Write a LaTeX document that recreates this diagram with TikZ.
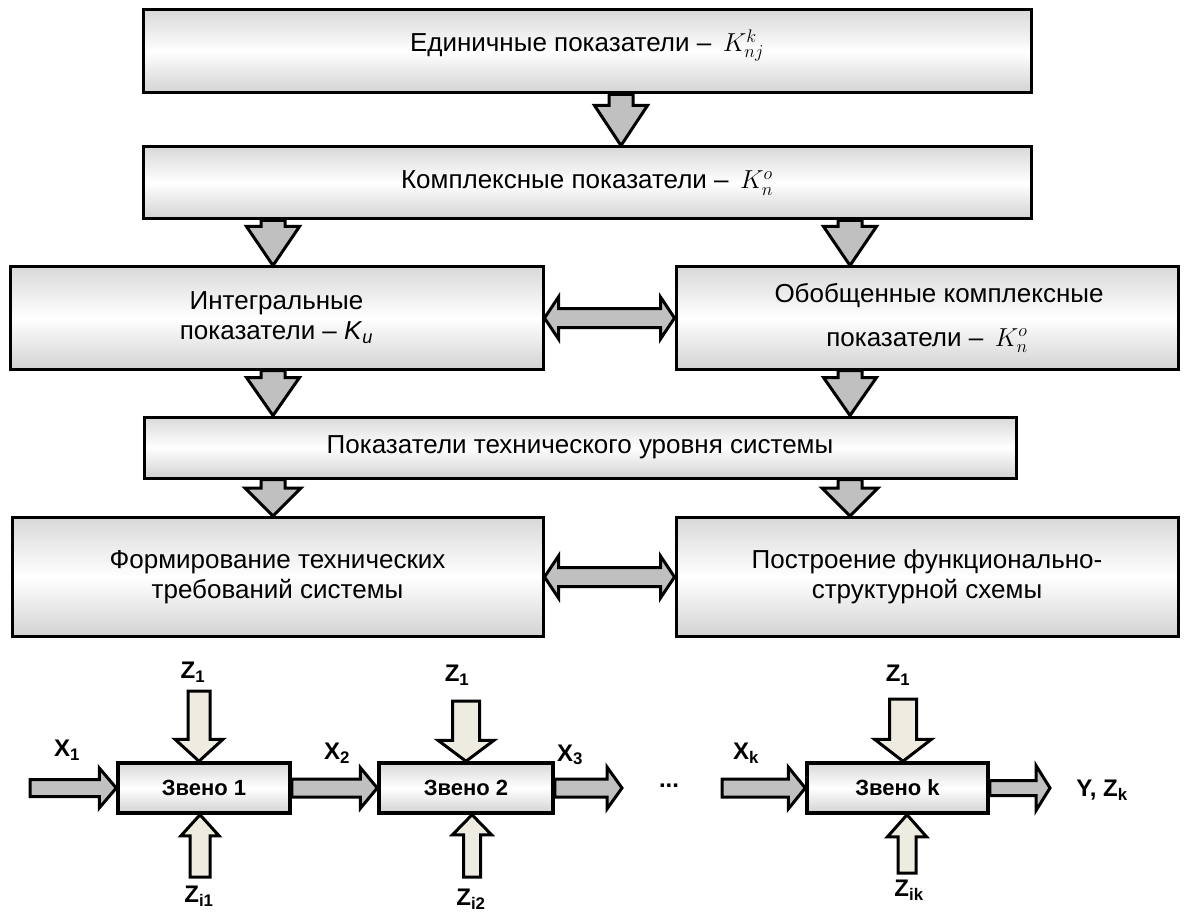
\documentclass[tikz,border=0pt]{standalone}
\usepackage{fix-cm}
\usepackage{fontspec}
\setmainfont{Liberation Sans}
\usepackage{xcolor}
\usepackage{tikz}
\usetikzlibrary{calc,positioning}

\definecolor{arrowgray}{HTML}{C0C0C0}
\definecolor{zbeige}{HTML}{EEECE1}

\tikzset{
  fat shaft/.store in=\fatshaft,
  fat head/.store in=\fathead,
  fat len/.store in=\fatlen,
  fat shaft=12pt, fat head=26.5pt, fat len=39pt,
  fat/.style={draw=black, fill=arrowgray, line width=3pt, line join=miter,
    to path={let \p1=(\tikztostart), \p2=(\tikztotarget),
      \p3=($(\p2)!\fatlen!(\p1)$) in
      ($(\p1)!\fatshaft!90:(\p2)$) -- ($(\p3)!\fatshaft!90:(\p2)$)
      -- ($(\p3)!\fathead!90:(\p2)$) -- (\p2)
      -- ($(\p3)!\fathead!-90:(\p2)$) -- ($(\p3)!\fatshaft!-90:(\p2)$)
      -- ($(\p1)!\fatshaft!-90:(\p2)$) -- cycle}},
  fatboth/.style={draw=black, fill=arrowgray, line width=3pt, line join=miter,
    to path={let \p1=(\tikztostart), \p2=(\tikztotarget),
      \p3=($(\p1)!\fatlen!(\p2)$), \p4=($(\p2)!\fatlen!(\p1)$) in
      (\p1) -- ($(\p3)!\fathead!90:(\p2)$) -- ($(\p3)!\fatshaft!90:(\p2)$)
      -- ($(\p4)!\fatshaft!90:(\p2)$) -- ($(\p4)!\fathead!90:(\p2)$) -- (\p2)
      -- ($(\p4)!\fathead!-90:(\p2)$) -- ($(\p4)!\fatshaft!-90:(\p2)$)
      -- ($(\p3)!\fatshaft!-90:(\p2)$) -- ($(\p3)!\fathead!-90:(\p2)$) -- cycle}},
  block/.style={draw, line width=3pt, top color=gray!30, bottom color=gray!35,
    middle color=white, align=center, inner sep=0pt,
    font=\fontsize{26}{30}\selectfont},
  link/.style={draw, line width=3.5pt, top color=gray!30, bottom color=gray!35,
    middle color=white, inner sep=0pt, minimum height=50pt,
    font=\bfseries\fontsize{22}{24}\selectfont},
  lbl/.style={inner sep=0pt, font=\bfseries\fontsize{24}{26}\selectfont}
}

\begin{document}
\begin{tikzpicture}[x=1pt, y=-1pt]
  \useasboundingbox (0,0) rectangle (1184,912);

  \node[block, minimum width=888pt, minimum height=83pt, text depth=22pt] (unit) at (587,51.5)
    {Единичные показатели – \,$K^{k}_{nj}$};
  \node[block, minimum width=888pt, minimum height=72pt] (compl) at (587,183)
    {Комплексные показатели – \,$K^{o}_{n}$};
  \node[block, minimum width=533pt, minimum height=102pt] (integ) at (276.5,318)
    {Интегральные\\показатели – \textit{K}\textsubscript{\textit{u}}};
  \node[block, minimum width=502pt, minimum height=102pt] (gener) at (927,318)
    {\hspace*{24pt}Обобщенные комплексные\\[14pt]показатели – \,$K^{o}_{n}$};
  \node[block, minimum width=872pt, minimum height=61pt] (level) at (580,447.5)
    {Показатели технического уровня системы};
  \node[block, minimum width=531pt, minimum height=119pt] (form) at (277.5,577)
    {Формирование технических\\требований системы};
  \node[block, minimum width=502pt, minimum height=119pt] (build) at (927,577)
    {Построение функционально-\\структурной схемы};

  \coordinate (mcol) at (621,0);
  \coordinate (lcol) at (273,0);
  \coordinate (rcol) at (850,0);

  \draw[fat, fat len=40pt] (unit.south -| mcol) to (compl.north -| mcol);
  \draw[fat] (compl.south -| lcol) to (integ.north -| lcol);
  \draw[fat] (compl.south -| rcol) to (gener.north -| rcol);
  \draw[fat, fat len=38pt] (integ.south -| lcol) to (level.north -| lcol);
  \draw[fat, fat len=38pt] (gener.south -| rcol) to (level.north -| rcol);
  \draw[fat, fat len=28pt, fat head=28pt] (level.south -| lcol) to (form.north -| lcol);
  \draw[fat, fat len=28pt, fat head=28pt] (level.south -| rcol) to (build.north -| rcol);
  \draw[fatboth, fat shaft=9.5pt, fat head=21pt, fat len=14pt] (integ.east) to (gener.west);
  \draw[fatboth, fat shaft=9.5pt, fat head=21pt, fat len=14pt] (form.east) to (build.west);

  \node[link, minimum width=172pt] (zv1) at (204,788) {Звено 1};
  \node[link, minimum width=174pt] (zv2) at (466,788) {Звено 2};
  \node[link, minimum width=181pt] (zvk) at (897.5,788) {Звено k};

  \coordinate (z1top) at (199,691);
  \coordinate (z2top) at (466,701);
  \coordinate (zktop) at (903,699);
  \coordinate (z1bot) at (200,877);
  \coordinate (z2bot) at (472,877);
  \coordinate (zkbot) at (907,873);

  \draw[fat, fill=zbeige, fat shaft=11pt, fat head=24pt, fat len=22pt] (z1top) to (z1top |- zv1.north);
  \draw[fat, fill=zbeige, fat shaft=13.5pt, fat head=28pt, fat len=21pt] (z2top) to (z2top |- zv2.north);
  \draw[fat, fill=zbeige, fat shaft=13.5pt, fat head=28.5pt, fat len=22pt] (zktop) to (zktop |- zvk.north);
  \draw[fat, fill=zbeige, fat shaft=10pt, fat head=19pt, fat len=21pt] (z1bot) to (z1bot |- zv1.south);
  \draw[fat, fill=zbeige, fat shaft=8.5pt, fat head=19.5pt, fat len=20pt] (z2bot) to (z2bot |- zv2.south);
  \draw[fat, fill=zbeige, fat shaft=9pt, fat head=19.5pt, fat len=22pt] (zkbot) to (zkbot |- zvk.south);

  \coordinate (x1in) at (30,788);
  \coordinate (x3out) at (622,788);
  \coordinate (xkin) at (722,788);
  \coordinate (yout) at (1050,788);

  \draw[fat, fat shaft=8.5pt, fat head=20pt, fat len=17pt] (x1in) to (zv1.west);
  \draw[fat, fat shaft=9pt, fat head=20.5pt, fat len=17pt] (zv1.east) to (zv2.west);
  \draw[fat, fat shaft=9pt, fat head=21pt, fat len=15pt] (zv2.east) to (x3out);
  \draw[fat, fat shaft=9pt, fat head=21pt, fat len=17pt] (xkin) to (zvk.west);
  \draw[fat, fat shaft=7.5pt, fat head=22.5pt, fat len=14pt] (zvk.east) to (yout);

  \node[lbl] (z1) at (193,672) {Z\textsubscript{1}};
  \node[lbl] (z2) at (457,675) {Z\textsubscript{1}};
  \node[lbl] (zk) at (898,675) {Z\textsubscript{1}};
  \node[lbl] (zi1) at (199,896) {Z\textsubscript{i1}};
  \node[lbl] (zi2) at (471,899) {Z\textsubscript{i2}};
  \node[lbl] (zik) at (909,890) {Z\textsubscript{ik}};
  \node[lbl] (x1) at (67,750) {X\textsubscript{1}};
  \node[lbl] (x2) at (337,753) {X\textsubscript{2}};
  \node[lbl] (x3) at (570,755) {X\textsubscript{3}};
  \node[lbl] (dots) at (669,786) {...};
  \node[lbl] (xk) at (746,753) {X\textsubscript{k}};
  \node[lbl] (yz) at (1102,790) {Y, Z\textsubscript{k}};
\end{tikzpicture}
\end{document}
